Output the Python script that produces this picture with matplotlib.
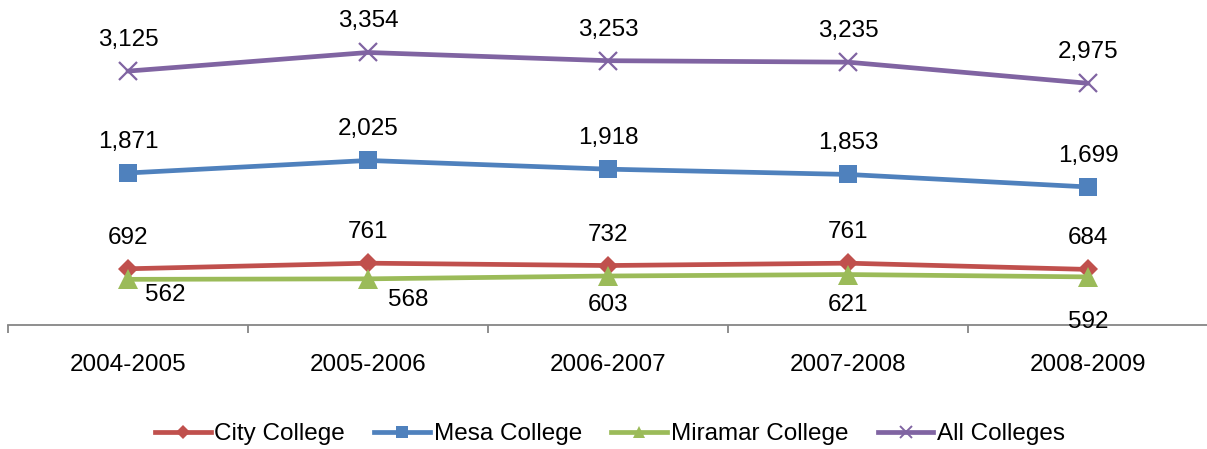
import matplotlib
matplotlib.use("Agg")
import matplotlib.pyplot as plt
from matplotlib.lines import Line2D

plt.rcParams['font.family'] = ['Liberation Sans', 'DejaVu Sans']

years = ["2004-2005", "2005-2006", "2006-2007", "2007-2008", "2008-2009"]
city = [692, 761, 732, 761, 684]
mesa = [1871, 2025, 1918, 1853, 1699]
miramar = [562, 568, 603, 621, 592]
all_colleges = [3125, 3354, 3253, 3235, 2975]

series = [
    ("City College", city, "#C0504D", "D", 10, 1),
    ("Mesa College", mesa, "#4F81BD", "s", 13, 1),
    ("Miramar College", miramar, "#9BBB59", "^", 15, 1),
    ("All Colleges", all_colleges, "#8064A2", "x", 13, 1.6),
]

# label offsets in pixels (dx, dy), positive dy = downward
above = [(0, -31)] * 5
miramar_offsets = [(37, 16), (40, 21), (0, 29), (0, 30), (0, 45)]
label_offsets = {
    "City College": above,
    "Mesa College": above,
    "Miramar College": miramar_offsets,
    "All Colleges": above,
}

W, H = 1207, 449
fig = plt.figure(figsize=(W / 100, H / 100), dpi=100)
ax = fig.add_axes([8 / W, (H - 325) / H, 1200 / W, 325 / H])

x = list(range(len(years)))
FS = 17.5
for name, vals, color, marker, ms, mew in series:
    ax.plot(x, vals, color=color, lw=3.4, marker=marker, ms=ms,
            mew=mew if marker == "x" else 0, mec=color, mfc=color,
            solid_capstyle="round", solid_joinstyle="round", zorder=3)
    for xi, v, (dx, dy) in zip(x, vals, label_offsets[name]):
        ax.annotate(f"{v:,}", (xi, v), xytext=(dx * 0.72, -dy * 0.72),
                    textcoords="offset points", ha="center", va="center",
                    fontsize=FS, color="black", zorder=4)

ax.set_xlim(-0.5, len(years) - 0.5)
ax.set_ylim(0, 4000)

for s in ["top", "left", "right"]:
    ax.spines[s].set_visible(False)
ax.spines["bottom"].set_color("#868686")
ax.spines["bottom"].set_linewidth(1.3)
ax.set_yticks([])

ax.set_xticks(x)
ax.set_xticklabels(years, fontsize=FS)
ax.tick_params(axis="x", which="major", length=0, pad=21)
ax.set_xticks([i - 0.5 for i in range(len(years) + 1)], minor=True)
ax.tick_params(axis="x", which="minor", length=5.5, width=1.3,
               color="#868686", direction="out")

handles = [Line2D([], [], color=c, lw=3.4, marker=m,
                  ms={"D": 7, "s": 9, "^": 9, "x": 8}[m],
                  mew=1.4 if m == "x" else 0, mec=c, mfc=c)
           for _, _, c, m, _, _ in series]
fig.legend(handles, [s[0] for s in series], loc="center",
           bbox_to_anchor=(610 / W, 1 - 434 / H), ncol=4, frameon=False,
           fontsize=FS, handlelength=2.3, handletextpad=0.15,
           columnspacing=1.2)

fig.savefig("out.png", dpi=100)
